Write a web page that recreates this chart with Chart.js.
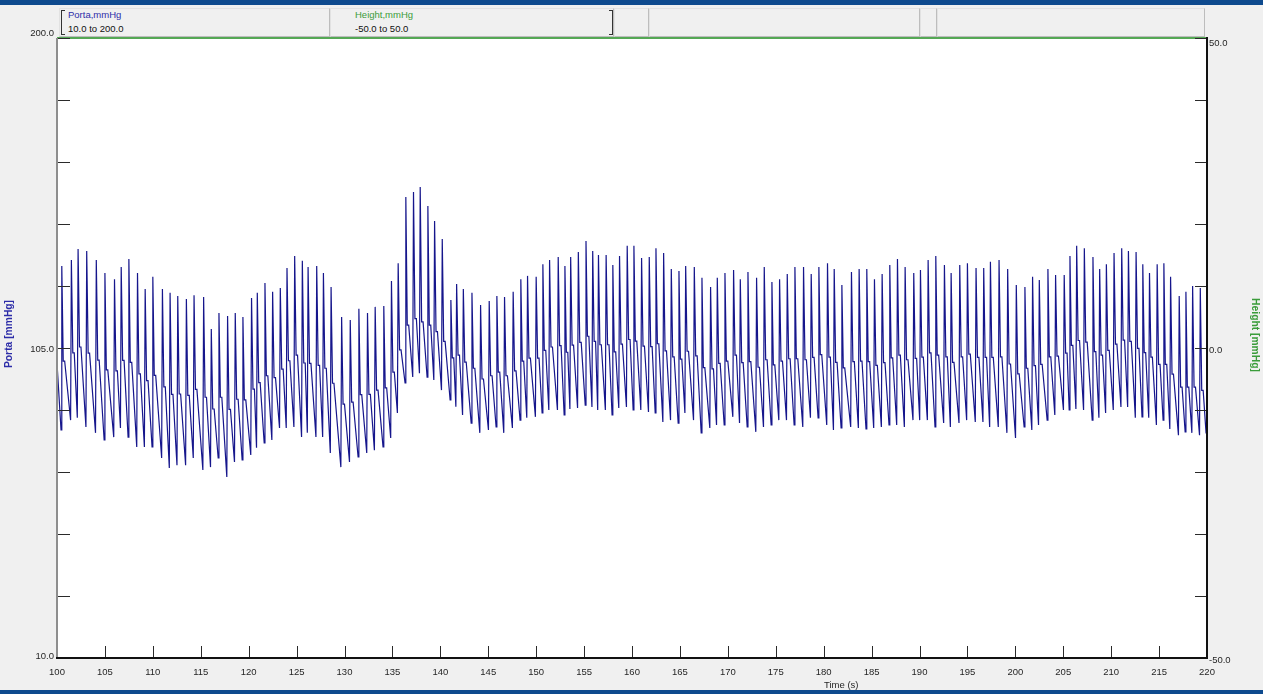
<!DOCTYPE html>
<html>
<head>
<meta charset="utf-8">
<script src="https://cdn.jsdelivr.net/npm/chart.js@4.4.1/dist/chart.umd.min.js"></script>
<style>
  html, body { margin: 0; padding: 0; background: #f0f0f0; overflow: hidden; }
  #wrap { position: relative; width: 1263px; height: 694px; font-family: "Liberation Sans", Arial, sans-serif; }
  #topbar { position: absolute; left: 0; top: 0; width: 1263px; height: 5px; background: #0e4a8e; }
  #botbar { position: absolute; left: 0; top: 690px; width: 1263px; height: 4px; background: #0e4a8e; }
  .box { position: absolute; top: 8px; height: 29px; box-sizing: border-box; background: #f0f0f0;
         border: 1px solid #bdbdbd; border-top-color: #e2e2e2; border-left-color: #e2e2e2; }
  .brk { position: absolute; top: 10px; height: 25px; width: 4px; box-sizing: border-box;
         border-top: 1px solid #333; border-bottom: 1px solid #333; }
  .ch { position: absolute; font-size: 9.5px; line-height: 11px; white-space: nowrap; }
  canvas { position: absolute; left: 0; top: 0; }
</style>
</head>
<body>
<div id="wrap">
  <div id="topbar"></div>
  <div class="box" style="left:59px;width:271px"></div>
  <div class="box" style="left:330px;width:284px"></div>
  <div class="box" style="left:614px;width:35px"></div>
  <div class="box" style="left:649px;width:271px"></div>
  <div class="box" style="left:920px;width:17px"></div>
  <div class="box" style="left:937px;width:268px"></div>
  <div class="brk" style="left:61px;border-left:1px solid #333"></div>
  <div class="brk" style="left:609px;border-right:1px solid #333"></div>
  <div class="ch" style="left:68px;top:9px;color:#2c2ca8">Porta,mmHg</div>
  <div class="ch" style="left:68px;top:23px;color:#111">10.0 to 200.0</div>
  <div class="ch" style="left:355px;top:9px;color:#3a9c3a">Height,mmHg</div>
  <div class="ch" style="left:355px;top:23px;color:#111">-50.0 to 50.0</div>
  <canvas id="c" width="1263" height="694"></canvas>
  <div id="botbar"></div>
</div>
<script>
// Portal pressure, one entry per heartbeat: time of the systolic peak (s),
// systolic peak, diastolic trough just before it, and the dicrotic notch level (mmHg).
const beatTimes = [
  100.5,101.5,102.2,103.1,104.1,105.0,106.0,106.7,107.5,108.4,
  109.2,110.0,111.0,111.8,112.6,113.5,114.3,115.3,116.1,116.9,
  117.8,118.6,119.4,120.3,120.9,121.7,122.5,123.3,124.0,124.8,
  125.6,126.2,127.1,127.8,128.6,129.7,130.6,131.5,132.4,133.2,
  134.1,134.9,135.6,136.4,137.2,137.9,138.7,139.4,140.2,141.1,
  141.7,142.4,143.3,144.2,145.1,145.9,146.7,147.6,148.4,149.1,
  150.0,150.7,151.4,152.3,153.0,153.6,154.4,155.2,155.9,156.5,
  157.3,158.0,158.7,159.5,160.2,161.0,161.8,162.5,163.3,164.1,
  164.9,165.6,166.5,167.3,168.2,168.9,169.7,170.6,171.3,172.1,
  173.0,173.8,174.6,175.4,176.2,177.0,177.9,178.7,179.5,180.4,
  181.1,181.9,182.9,183.7,184.5,185.3,186.1,186.9,187.7,188.5,
  189.4,190.1,190.9,191.7,192.6,193.3,194.2,195.0,195.9,196.7,
  197.4,198.3,199.2,200.1,201.0,201.8,202.5,203.4,204.2,205.1,
  205.7,206.4,207.2,208.1,208.8,209.5,210.3,211.1,211.8,212.6,
  213.3,214.0,214.8,215.5,216.2,217.1,217.8,218.5,219.3,219.98
];
const systolic = [
  130.1,132.0,135.3,134.7,132.0,128.0,126.1,129.8,132.3,128.0,
  123.1,126.8,123.1,121.9,120.9,120.0,121.2,120.6,110.8,115.7,
  114.8,115.7,114.5,120.3,121.9,124.9,122.2,123.4,129.5,133.2,
  131.7,129.8,130.1,128.0,123.7,114.5,113.6,117.0,115.7,117.6,
  117.9,125.5,131.0,151.3,152.8,154.3,148.5,143.9,138.4,119.7,
  124.6,123.1,121.9,118.2,119.4,120.9,120.6,122.2,126.1,127.1,
  126.8,130.7,132.0,132.9,130.1,132.9,134.4,137.8,134.7,133.5,
  133.5,130.4,133.2,136.3,136.3,132.6,132.9,135.6,134.1,129.2,
  128.6,130.1,129.8,126.5,123.7,126.5,128.0,128.9,126.1,128.3,
  126.5,129.8,125.2,126.1,127.7,129.8,129.8,127.7,129.8,131.0,
  129.2,124.3,128.3,129.2,129.2,126.1,127.7,130.4,132.3,129.8,
  128.0,128.9,132.0,133.2,130.4,128.0,130.4,131.0,129.5,129.5,
  131.4,132.0,129.2,124.3,123.7,126.8,125.8,129.2,127.4,127.4,
  133.2,136.3,135.6,132.9,129.2,130.7,134.1,135.6,134.7,134.4,
  130.7,128.0,130.7,131.0,126.8,120.9,122.2,124.0,123.4,121.2
];
const diastolic = [
  79.9,82.9,83.6,80.8,79.0,76.8,77.7,80.5,77.7,74.7,
  74.7,74.7,71.3,68.2,69.1,69.1,71.3,67.6,68.5,71.3,
  65.5,70.1,70.7,72.2,74.4,75.9,76.8,80.5,80.5,80.8,
  77.7,79.0,77.7,77.7,72.8,68.5,70.1,71.6,72.8,73.7,
  74.7,77.4,85.1,94.3,96.1,97.3,96.1,95.2,92.1,89.1,
  87.0,84.5,82.0,79.0,79.9,80.8,79.0,80.5,82.9,83.6,
  83.9,85.1,86.0,86.0,84.5,86.3,86.6,87.5,86.9,86.0,
  86.0,84.5,86.6,86.9,86.0,86.0,85.4,85.1,82.3,82.9,
  82.0,85.1,82.9,79.0,80.5,81.4,81.4,83.9,82.0,80.8,
  79.3,80.8,81.4,82.9,82.9,81.4,80.8,83.6,83.6,81.4,
  79.9,80.5,80.8,80.5,80.2,80.5,80.8,81.4,81.4,80.8,
  82.9,82.9,82.9,80.8,82.0,80.8,82.0,82.9,82.3,82.3,
  80.8,80.8,79.0,77.4,80.8,79.9,81.4,82.9,84.5,86.0,
  86.0,86.3,86.0,82.9,83.6,85.1,86.0,86.9,86.9,83.6,
  83.9,83.6,81.4,82.9,80.2,78.3,79.3,79.0,78.3,79.0
];
const notch = [
  101.0,103.5,105.3,103.4,101.3,98.3,98.0,101.2,100.6,97.1,
  95.0,96.6,93.1,90.8,90.9,90.5,92.3,89.9,86.3,89.9,
  86.2,89.3,89.1,92.4,94.4,96.5,95.9,98.5,101.1,102.8,
  100.4,100.3,99.7,98.8,94.2,87.8,88.4,90.7,90.8,92.1,
  92.8,97.6,104.4,112.0,114.0,113.0,112.0,110.0,107.0,102.0,
  102.8,100.7,98.8,95.5,96.5,97.6,96.5,98.0,101.0,101.9,
  101.9,104.3,105.3,105.7,103.7,105.9,106.7,108.6,107.0,106.0,
  106.0,103.8,106.2,107.6,107.1,105.6,105.4,106.3,104.1,102.3,
  101.6,104.0,102.6,99.0,98.6,100.3,101.0,102.8,100.5,100.8,
  99.1,101.4,99.8,101.0,101.7,101.7,101.4,102.1,103.0,102.2,
  100.6,98.9,100.8,101.0,100.8,99.7,100.5,102.0,102.8,101.4,
  101.8,102.2,103.5,102.8,102.3,100.6,102.3,103.1,102.1,102.1,
  102.1,102.3,100.1,97.1,98.8,99.6,100.0,102.3,102.5,103.4,
  105.8,107.3,106.8,103.9,102.8,104.3,106.2,107.4,107.0,104.9,
  103.6,102.2,100.0,100.0,97.0,93.0,93.0,93.0,92.0,92.0
];
const traceStartTime = 100;
const traceStartValue = 100.4;

// Height channel (right axis), pinned at the top of its range
const heightTimes = [100, 220];
const heightValues = [50, 50];

// Axis ticks and labelled values
const portaTicks = [10, 29, 48, 67, 86, 105, 124, 143, 162, 181, 200];
const portaLabelled = [10, 105, 200];
const heightTicks = [-50, -40, -30, -20, -10, 0, 10, 20, 30, 40, 50];
const heightLabelled = [-50, 0, 50];
const timeTicks = [100, 105, 110, 115, 120, 125, 130, 135, 140, 145, 150, 155, 160,
                   165, 170, 175, 180, 185, 190, 195, 200, 205, 210, 215, 220];

// Pressure trace: trough -> systolic upstroke -> fall to the notch -> notch -> next trough
const portaPoints = [{ x: traceStartTime, y: traceStartValue }];
beatTimes.forEach((t, i) => {
  portaPoints.push({ x: t - 0.08, y: diastolic[i] });
  portaPoints.push({ x: t, y: systolic[i] });
  portaPoints.push({ x: t + 0.15, y: notch[i] });
  portaPoints.push({ x: t + 0.3, y: notch[i] });
});
const heightPoints = heightTimes.map((t, i) => ({ x: t, y: heightValues[i] }));

const FONT = '9.5px "Liberation Sans", Arial, sans-serif';
const BOLD = 'bold 10.3px "Liberation Sans", Arial, sans-serif';

const frame = {
  id: 'frame',
  beforeDraw(chart) {
    const { ctx, chartArea: a } = chart;
    ctx.save();
    ctx.fillStyle = '#ffffff';
    ctx.fillRect(a.left, a.top, a.right - a.left, a.bottom - a.top);
    ctx.restore();
  },
  afterDraw(chart) {
    const { ctx, chartArea: a, scales } = chart;
    const xs = scales.x, ys = scales.y, y2 = scales.y2;
    ctx.save();

    // tick marks pointing into the plot
    ctx.strokeStyle = '#2a2a2a';
    ctx.lineWidth = 1;
    ctx.beginPath();
    portaTicks.forEach(v => {
      const py = Math.round(ys.getPixelForValue(v)) + 0.5;
      ctx.moveTo(a.left, py); ctx.lineTo(a.left + 13, py);
    });
    heightTicks.forEach(v => {
      const py = Math.round(y2.getPixelForValue(v)) + 0.5;
      ctx.moveTo(a.right - 12, py); ctx.lineTo(a.right, py);
    });
    timeTicks.forEach(v => {
      const px = Math.round(xs.getPixelForValue(v)) + 0.5;
      ctx.moveTo(px, a.bottom); ctx.lineTo(px, a.bottom - 12);
    });
    ctx.stroke();

    // axis lines
    ctx.lineWidth = 2;
    ctx.strokeStyle = '#8e8e8e';
    ctx.beginPath(); ctx.moveTo(a.left, a.top); ctx.lineTo(a.left, a.bottom + 1); ctx.stroke();
    ctx.strokeStyle = '#111111';
    ctx.beginPath(); ctx.moveTo(a.left - 1, a.bottom); ctx.lineTo(a.right + 1, a.bottom); ctx.stroke();
    ctx.beginPath(); ctx.moveTo(a.right, a.top - 1); ctx.lineTo(a.right, a.bottom + 1); ctx.stroke();

    // tick labels
    ctx.font = FONT;
    ctx.fillStyle = '#262626';
    ctx.textBaseline = 'middle';
    ctx.textAlign = 'right';
    portaLabelled.forEach(v => {
      const py = ys.getPixelForValue(v);
      const nudge = v === 200 ? -5 : (v === 10 ? -2 : 1);
      ctx.fillText(v.toFixed(1), a.left - 3, py + nudge);
    });
    ctx.textAlign = 'left';
    heightLabelled.forEach(v => {
      const py = y2.getPixelForValue(v);
      const nudge = v === 50 ? 5 : 2;
      ctx.fillText(v.toFixed(1), a.right + 2, py + nudge);
    });
    ctx.textAlign = 'center';
    timeTicks.forEach(v => {
      ctx.fillText(String(v), xs.getPixelForValue(v), a.bottom + 14);
    });
    ctx.fillText('Time (s)', a.left + (a.right - a.left) * 0.682, a.bottom + 27);

    // axis titles
    ctx.font = BOLD;
    ctx.fillStyle = '#2c2ca8';
    ctx.save();
    ctx.translate(9, 334);
    ctx.rotate(-Math.PI / 2);
    ctx.fillText('Porta [mmHg]', 0, 0);
    ctx.restore();
    ctx.fillStyle = '#3a9c3a';
    ctx.save();
    ctx.translate(1255, 335);
    ctx.rotate(Math.PI / 2);
    ctx.fillText('Height [mmHg]', 0, 0);
    ctx.restore();

    ctx.restore();
  }
};

new Chart(document.getElementById('c').getContext('2d'), {
  type: 'line',
  data: {
    datasets: [
      { label: 'Porta', data: portaPoints, yAxisID: 'y', borderColor: '#16168c', borderWidth: 1.2,
        pointRadius: 0, tension: 0, fill: false },
      { label: 'Height', data: heightPoints, yAxisID: 'y2', borderColor: '#55a855', borderWidth: 2,
        pointRadius: 0, tension: 0, fill: false, clip: 2 }
    ]
  },
  options: {
    responsive: false,
    animation: false,
    devicePixelRatio: 1,
    events: [],
    layout: { padding: { left: 57, right: 56, top: 38, bottom: 36 } },
    plugins: { legend: { display: false }, tooltip: { enabled: false } },
    scales: {
      x: { type: 'linear', min: 100, max: 220, display: false },
      y: { type: 'linear', position: 'left', min: 10, max: 200, display: false },
      y2: { type: 'linear', position: 'right', min: -50, max: 50, display: false }
    }
  },
  plugins: [frame]
});
</script>
</body>
</html>
